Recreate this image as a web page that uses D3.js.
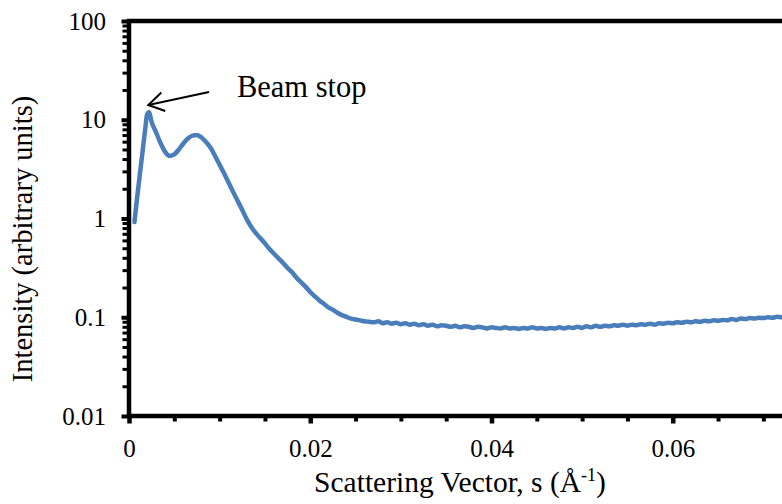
<!DOCTYPE html>
<html>
<head>
<meta charset="utf-8">
<script src="https://cdn.jsdelivr.net/npm/d3@7"></script>
<style>
  html, body { margin: 0; padding: 0; background: #fff; }
  svg { display: block; }
</style>
</head>
<body>
<svg id="chart" width="782" height="504"></svg>
<script>
// ---- data ----
const sValues = [
  0.0006, 0.0009, 0.0012, 0.0015, 0.0018, 0.0020, 0.0022, 0.0025, 0.0030, 0.0035,
  0.0040, 0.0045, 0.0050, 0.0055, 0.0060, 0.0065, 0.0070, 0.0075, 0.0080, 0.0085,
  0.0090, 0.0095, 0.0100, 0.0105, 0.0110, 0.0115, 0.0120, 0.0125, 0.0130, 0.0135,
  0.0140, 0.0145, 0.0150, 0.0155, 0.0160, 0.0165, 0.0170, 0.0175, 0.0180, 0.0185,
  0.0190, 0.0195, 0.0200, 0.0205, 0.0210, 0.0215, 0.0220, 0.0225, 0.0230, 0.0235,
  0.0240, 0.0245, 0.0250, 0.0255, 0.0260, 0.0265, 0.0270, 0.0275, 0.0280, 0.0285,
  0.0290, 0.0295, 0.0300, 0.0305, 0.0310, 0.0315, 0.0320, 0.0325, 0.0330, 0.0335,
  0.0340, 0.0345, 0.0350, 0.0355, 0.0360, 0.0365, 0.0370, 0.0375, 0.0380, 0.0385,
  0.0390, 0.0395, 0.0400, 0.0405, 0.0410, 0.0415, 0.0420, 0.0425, 0.0430, 0.0435,
  0.0440, 0.0445, 0.0450, 0.0455, 0.0460, 0.0465, 0.0470, 0.0475, 0.0480, 0.0485,
  0.0490, 0.0495, 0.0500, 0.0505, 0.0510, 0.0515, 0.0520, 0.0525, 0.0530, 0.0535,
  0.0540, 0.0545, 0.0550, 0.0555, 0.0560, 0.0565, 0.0570, 0.0575, 0.0580, 0.0585,
  0.0590, 0.0595, 0.0600, 0.0605, 0.0610, 0.0615, 0.0620, 0.0625, 0.0630, 0.0635,
  0.0640, 0.0645, 0.0650, 0.0655, 0.0660, 0.0665, 0.0670, 0.0675, 0.0680, 0.0685,
  0.0690, 0.0695, 0.0700, 0.0705, 0.0710, 0.0715, 0.0720, 0.0725
];
const intensityValues = [
  0.92, 1.64, 2.8, 4.8, 8.2, 11.4, 11.9, 9.5, 7.4, 5.75,
  4.7, 4.3, 4.45, 5.0, 5.75, 6.45, 6.9, 7.0, 6.6, 5.95,
  5.2, 4.3, 3.5, 2.85, 2.3, 1.85, 1.5, 1.22, 0.98, 0.82,
  0.71, 0.63, 0.56, 0.49, 0.44, 0.395, 0.355, 0.315, 0.285, 0.25,
  0.226, 0.203, 0.18, 0.163, 0.148, 0.137, 0.126, 0.119, 0.111, 0.105,
  0.101, 0.097, 0.095, 0.093, 0.091, 0.090, 0.089, 0.091, 0.087, 0.089,
  0.086, 0.088, 0.085, 0.087, 0.084, 0.086, 0.083, 0.085, 0.082, 0.084,
  0.081, 0.083, 0.082, 0.080, 0.082, 0.079, 0.081, 0.080, 0.078, 0.080,
  0.079, 0.077, 0.079, 0.078, 0.077, 0.079, 0.077, 0.078, 0.076, 0.078,
  0.077, 0.079, 0.077, 0.078, 0.076, 0.078, 0.077, 0.079, 0.077, 0.079,
  0.078, 0.080, 0.078, 0.081, 0.079, 0.082, 0.080, 0.082, 0.081, 0.083,
  0.082, 0.084, 0.082, 0.084, 0.083, 0.085, 0.084, 0.086, 0.084, 0.087,
  0.086, 0.088, 0.087, 0.089, 0.088, 0.090, 0.089, 0.091, 0.090, 0.092,
  0.091, 0.093, 0.092, 0.094, 0.093, 0.096, 0.094, 0.097, 0.096, 0.098,
  0.097, 0.099, 0.098, 0.100, 0.099, 0.101, 0.100, 0.101
];

const xDomain = [0, 0.08];
const yDomain = [0.01, 100];
const xMajorTicks = [0, 0.02, 0.04, 0.06];
const xTickLabels = ["0", "0.02", "0.04", "0.06"];
const xMinorTicks = [0.005, 0.01, 0.015, 0.025, 0.03, 0.035, 0.045, 0.05, 0.055, 0.065, 0.07, 0.075];
const yMajorTicks = [0.01, 0.1, 1, 10, 100];
const yTickLabels = ["0.01", "0.1", "1", "10", "100"];
const yMinorTicks = [0.02,0.03,0.04,0.05,0.06,0.07,0.08,0.09,
                     0.2,0.3,0.4,0.5,0.6,0.7,0.8,0.9,
                     2,3,4,5,6,7,8,9,
                     20,30,40,50,60,70,80,90];

const xTitle = "Scattering Vector, s (Å";
const xTitleSup = "-1";
const yTitle = "Intensity (arbitrary units)";

// annotation: [s, intensity]
const annotationText = "Beam stop";
const annotationTextAt = [0.01191, 17.0];
const arrowFrom = [0.00883, 19.1];
const arrowTo = [0.00213, 14.1];

// ---- layout ----
const SERIF = '"Liberation Serif", "Times New Roman", Times, serif';
const svg = d3.select("#chart").style("font-family", SERIF);
const plotLeft = 129, plotTop = 21, plotBottom = 416, plotRight = 854;

const x = d3.scaleLinear().domain(xDomain).range([plotLeft, plotRight]);
const y = d3.scaleLog().domain(yDomain).range([plotBottom, plotTop]);

const data = sValues.map((s, i) => ({ s, v: intensityValues[i] }));

svg.append("defs").append("clipPath").attr("id", "plotclip")
  .append("rect").attr("x", plotLeft).attr("y", plotTop)
  .attr("width", plotRight - plotLeft).attr("height", plotBottom - plotTop);

// curve
svg.append("path")
  .datum(data)
  .attr("clip-path", "url(#plotclip)")
  .attr("fill", "none")
  .attr("stroke", "#4A7EBB")
  .attr("stroke-width", 4.5)
  .attr("stroke-linejoin", "round")
  .attr("stroke-linecap", "round")
  .attr("d", d3.line().x(d => x(d.s)).y(d => y(d.v)).curve(d3.curveMonotoneX));

// frame
svg.append("rect")
  .attr("x", plotLeft).attr("y", plotTop)
  .attr("width", plotRight - plotLeft).attr("height", plotBottom - plotTop)
  .attr("fill", "none").attr("stroke", "#000").attr("stroke-width", 4.5);

function styleAxis(g, w) {
  g.attr("font-family", null).style("font-family", SERIF);
  g.select(".domain").remove();
  g.selectAll(".tick line").attr("stroke", "#000").attr("stroke-width", w);
  g.selectAll("text").style("font-family", SERIF).style("font-size", "25px").attr("fill", "#000");
}

// y minor ticks
svg.append("g").attr("transform", `translate(${plotLeft},0)`)
  .call(d3.axisLeft(y).tickValues(yMinorTicks).tickSize(6.5).tickFormat(""))
  .call(g => styleAxis(g, 3));
// y major ticks
svg.append("g").attr("transform", `translate(${plotLeft},0)`)
  .call(d3.axisLeft(y).tickValues(yMajorTicks).tickSize(7.5).tickPadding(15.5)
    .tickFormat((d, i) => yTickLabels[i]))
  .call(g => styleAxis(g, 4));

// x minor ticks
svg.append("g").attr("transform", `translate(0,${plotBottom})`)
  .call(d3.axisBottom(x).tickValues(xMinorTicks).tickSize(5.5).tickFormat(""))
  .call(g => styleAxis(g, 4));
// x major ticks
svg.append("g").attr("transform", `translate(0,${plotBottom})`)
  .call(d3.axisBottom(x).tickValues(xMajorTicks).tickSize(7.5).tickPadding(15.5)
    .tickFormat((d, i) => xTickLabels[i]))
  .call(g => styleAxis(g, 4.5));

// axis titles
const xt = svg.append("text")
  .attr("x", 460).attr("y", 492)
  .attr("text-anchor", "middle")
  .style("font-family", SERIF)
  .style("font-size", "29.5px");
xt.append("tspan").text(xTitle);
xt.append("tspan").text(xTitleSup).style("font-size", "18px").attr("dy", -11);
xt.append("tspan").text(")").attr("dy", 11);

svg.append("text")
  .attr("transform", "translate(31.5,239) rotate(-90)")
  .attr("text-anchor", "middle")
  .style("font-family", SERIF)
  .style("font-size", "28.5px")
  .text(yTitle);

// annotation
const ax1 = x(arrowFrom[0]), ay1 = y(arrowFrom[1]);
const ax2 = x(arrowTo[0]), ay2 = y(arrowTo[1]);
svg.append("line")
  .attr("x1", ax1).attr("y1", ay1).attr("x2", ax2).attr("y2", ay2)
  .attr("stroke", "#000").attr("stroke-width", 2);
const ang = Math.atan2(ay1 - ay2, ax1 - ax2);
const headLen = 18, spread = 0.55;
const head = d3.path();
head.moveTo(ax2 + headLen * Math.cos(ang - spread), ay2 + headLen * Math.sin(ang - spread));
head.lineTo(ax2, ay2);
head.lineTo(ax2 + headLen * Math.cos(ang + spread), ay2 + headLen * Math.sin(ang + spread));
svg.append("path").attr("d", head.toString())
  .attr("fill", "none").attr("stroke", "#000").attr("stroke-width", 2)
  .attr("stroke-linejoin", "miter");

svg.append("text")
  .attr("x", x(annotationTextAt[0])).attr("y", y(annotationTextAt[1]))
  .style("font-family", SERIF)
  .style("font-size", "30.5px")
  .text(annotationText);
</script>
</body>
</html>
